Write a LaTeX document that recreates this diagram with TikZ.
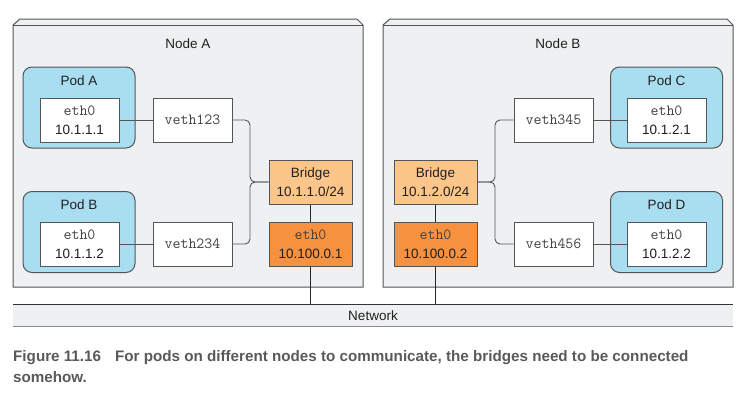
\documentclass[tikz,border=0pt]{standalone}
\usepackage{fontspec}
\setmainfont{Liberation Sans}
\newfontfamily\capfont{Liberation Sans}
\usetikzlibrary{positioning}
\definecolor{hostgray}{HTML}{EFF0F2}
\definecolor{podblue}{HTML}{A9DEF0}
\definecolor{bridgeorange}{HTML}{FCC589}
\definecolor{ethorange}{HTML}{F6923F}
\definecolor{edgegray}{HTML}{555555}
\definecolor{txt}{HTML}{231F20}
\definecolor{captxt}{HTML}{58595B}
\newcommand{\monotxt}[1]{{\fontsize{15.5}{19}\selectfont\ttfamily\color{txt!85!white}#1}}
\begin{document}
\begin{tikzpicture}[x=1pt,y=-1pt,
    every node/.style={text=txt, font=\fontsize{13.5}{19}\selectfont},
    host/.style={draw=edgegray, line width=1pt, fill=hostgray},
    box/.style={draw=edgegray, line width=1pt, minimum width=79pt, minimum height=44pt, inner sep=0pt, align=center},
    iface/.style={box, fill=white},
    veth/.style={box, fill=white},
    bridge/.style={box, fill=bridgeorange, minimum width=83pt},
    hosteth/.style={box, fill=ethorange, minimum width=83pt},
    pod/.style={draw=edgegray, line width=1pt, fill=podblue, rounded corners=9pt, minimum width=112pt, minimum height=81pt, inner sep=0pt},
    wire/.style={draw=edgegray, line width=0.9pt}]
  \useasboundingbox (0,0) rectangle (755,408);
  \draw[host] (13,287) -- (13,25) -- (20,19) -- (357,19) -- (363,25) -- (363,287) -- cycle;
  \draw[edgegray, line width=0.8pt] (13,25) -- (363,25);
  \draw[host] (383,287) -- (383,25) -- (390,19) -- (727,19) -- (733,25) -- (733,287) -- cycle;
  \draw[edgegray, line width=0.8pt] (383,25) -- (733,25);
  \node (hostA) at (188,44) {Node A};
  \node (hostB) at (558,44) {Node B};
  \node[pod] (podA) at (79,107.5) {};
  \node (podAname) at (79,81) {Pod A};
  \node[pod] (podB) at (79,232) {};
  \node (podBname) at (79,205) {Pod B};
  \node[pod] (podC) at (666.5,107.5) {};
  \node (podCname) at (666.5,81) {Pod C};
  \node[pod] (podD) at (666.5,232) {};
  \node (podDname) at (666.5,205) {Pod D};
  \node[iface] (ethA) at (79.5,120) {\monotxt{eth0}\\10.1.1.1};
  \node[iface] (ethB) at (79.5,244) {\monotxt{eth0}\\10.1.1.2};
  \node[iface] (ethC) at (666.5,120) {\monotxt{eth0}\\10.1.2.1};
  \node[iface] (ethD) at (666.5,244) {\monotxt{eth0}\\10.1.2.2};
  \node[veth] (veth123) at (192.5,120) {\monotxt{veth123}};
  \node[veth] (veth234) at (192.5,244) {\monotxt{veth234}};
  \node[veth] (veth345) at (553.5,120) {\monotxt{veth345}};
  \node[veth] (veth456) at (553.5,244) {\monotxt{veth456}};
  \node[bridge] (bridgeA) at (310.5,182) {Bridge\\10.1.1.0/24};
  \node[bridge] (bridgeB) at (435.5,182) {Bridge\\10.1.2.0/24};
  \node[hosteth] (nicA) at (310.5,244) {\monotxt{eth0}\\10.100.0.1};
  \node[hosteth] (nicB) at (435.5,244) {\monotxt{eth0}\\10.100.0.2};
  \node[fill=hostgray, minimum width=720pt, minimum height=21pt, inner sep=0pt] (net) at (373,315.5) {Network};
  \draw[black!80, line width=1pt] (net.north west) -- (net.north east);
  \draw[black!45, line width=1.2pt] (net.south west) -- (net.south east);
  \coordinate (jA) at (250,182);
  \coordinate (jB) at (495,182);
  \begin{scope}[wire]
    \draw (ethA) -- (veth123);
    \draw (ethB) -- (veth234);
    \draw (ethC) -- (veth345);
    \draw (ethD) -- (veth456);
    \draw[rounded corners=5pt] (veth123.east) -| (jA) -- (bridgeA.west);
    \draw[rounded corners=5pt] (veth234.east) -| (jA) -- (bridgeA.west);
    \draw[rounded corners=5pt] (veth345.west) -| (jB) -- (bridgeB.east);
    \draw[rounded corners=5pt] (veth456.west) -| (jB) -- (bridgeB.east);
  \end{scope}
  \begin{scope}[draw=black!85, line width=0.8pt]
    \draw (bridgeA) -- (nicA);
    \draw (bridgeB) -- (nicB);
    \draw (nicA.south) -- (nicA.south |- net.north);
    \draw (nicB.south) -- (nicB.south |- net.north);
  \end{scope}
  \node[anchor=north west, align=left, inner sep=0pt, text=captxt, font=\capfont\bfseries\fontsize{15.2}{21}\selectfont] (caption) at (13,350) {Figure 11.16\hspace{14pt}For pods on different nodes to communicate, the bridges need to be connected\\somehow.};
\end{tikzpicture}
\end{document}
